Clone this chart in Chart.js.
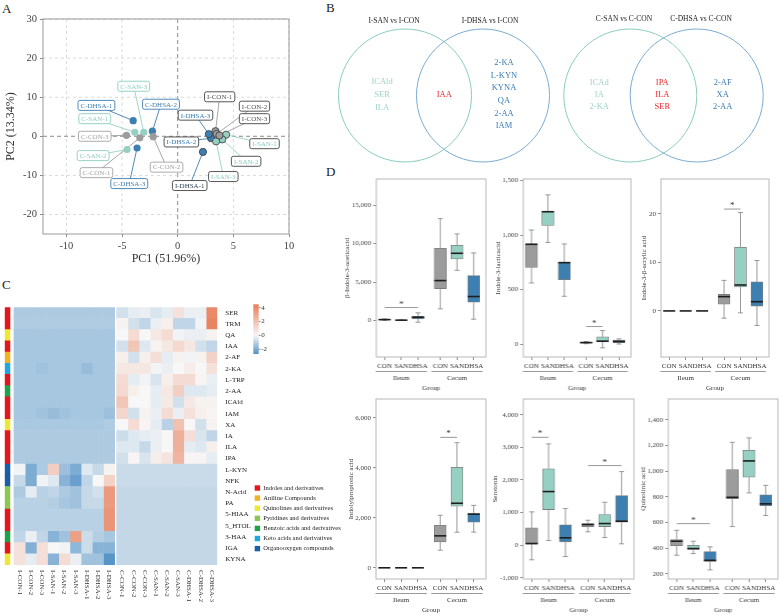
<!DOCTYPE html>
<html>
<head>
<meta charset="utf-8">
<script src="https://cdn.jsdelivr.net/npm/chart.js@4.4.1/dist/chart.umd.min.js"></script>
<style>
  html, body { margin: 0; padding: 0; background: #fff; overflow: hidden; }
  #fig { position: relative; width: 779px; height: 615px; overflow: hidden; font-family: 'Liberation Serif', 'Times New Roman', serif; }
  #fig canvas { position: absolute; }
  .tag { position: absolute; font-size: 13px; color: #222; line-height: 15px; }
</style>
</head>
<body>
<div id="fig">
  <div class="tag" style="left:2px;top:1px">A</div>
  <div class="tag" style="left:326px;top:0px">B</div>
  <div class="tag" style="left:2px;top:277px">C</div>
  <div class="tag" style="left:326px;top:164px">D</div>
</div>
<script>
const SERIF = "'Liberation Serif', 'Times New Roman', serif";

// ---- A: PCA ----
const pcaSamples = ['I-CON-1', 'I-CON-2', 'I-CON-3', 'I-SAN-1', 'I-SAN-2', 'I-SAN-3', 'I-DHSA-1', 'I-DHSA-2', 'I-DHSA-3',
                    'C-CON-1', 'C-CON-2', 'C-CON-3', 'C-SAN-1', 'C-SAN-2', 'C-SAN-3', 'C-DHSA-1', 'C-DHSA-2', 'C-DHSA-3'];
const pc1 = [3.4, 3.5, 3.75, 4.35, 4.0, 3.45, 2.27, 3.0, 2.8, -3.4, -2.2, -4.6, -3.85, -4.55, -3.05, -4.0, -2.27, -3.65];
const pc2 = [1.3, 0.6, 0.2, 0.4, -0.8, -1.3, -4.0, -0.5, 0.55, -0.4, -0.1, 0.25, 1.0, -3.4, 1.0, 4.0, 1.3, -3.0];
const pc1Ticks = [-10, -5, 0, 5, 10];
const pc2Ticks = [-20, -10, 0, 10, 20, 30];
// where the repelled labels sit (data units)
const labelX = [3.77, 6.9, 6.9, 7.8, 6.15, 4.1, 1.08, 0.33, 1.6, -7.3, -1.0, -7.45, -7.45, -7.6, -3.95, -7.3, -1.5, -4.35];
const labelY = [10.1, 7.7, 4.5, -1.9, -6.4, -10.3, -12.6, -1.45, 5.4, -9.3, -7.9, 0, 4.5, -4.95, 12.8, 7.9, 8.2, -12.1];

// ---- B: Venn ----
const vennTitles = ['I-SAN vs I-CON', 'I-DHSA vs I-CON', 'C-SAN vs C-CON', 'C-DHSA vs C-CON'];
const ileumSanOnly = ['ICAld', 'SER', 'ILA'];
const ileumShared = ['IAA'];
const ileumDhsaOnly = ['2-KA', 'L-KYN', 'KYNA', 'QA', '2-AA', 'IAM'];
const cecumSanOnly = ['ICAd', 'IA', '2-KA'];
const cecumShared = ['IPA', 'ILA', 'SER'];
const cecumDhsaOnly = ['2-AF', 'XA', '2-AA'];

// ---- C: heatmap ----
const metabolites = ['SER', 'TRM', 'QA', 'IAA', '2-AF', '2-KA', 'L-TRP', '2-AA', 'ICAld', 'IAM', 'XA', 'IA', 'ILA', 'IPA',
                     'L-KYN', 'NFK', 'N-Acid', 'PA', '5-HIAA', '5_HTOL', '3-HAA', 'IGA', 'KYNA'];
const metClass = [0, 0, 2, 0, 1, 5, 0, 4, 0, 0, 2, 0, 0, 0, 6, 6, 3, 3, 0, 0, 4, 0, 2];
const classNames = ['Indoles and derivatives', 'Aniline Compounds', 'Quinolines and derivatives', 'Pyridines and derivatives',
                    'Benzoic acids and derivatives', 'Keto acids and derivatives', 'Organooxygen compounds'];
const ileumSamples = ['I-CON-1', 'I-CON-2', 'I-CON-3', 'I-SAN-1', 'I-SAN-2', 'I-SAN-3', 'I-DHSA-1', 'I-DHSA-2', 'I-DHSA-3'];
const cecumSamples = ['C-CON-1', 'C-CON-2', 'C-CON-3', 'C-SAN-1', 'C-SAN-2', 'C-SAN-3', 'C-DHSA-1', 'C-DHSA-2', 'C-DHSA-3'];
const zIleum = [
  [-1.2, -1.2, -1.2, -1.2, -1.2, -1.2, -1.2, -1.2, -1.2],
  [-1.15, -1.15, -1.15, -1.15, -1.15, -1.15, -1.15, -1.15, -1.15],
  [-1.3, -1.3, -1.3, -1.3, -1.3, -1.3, -1.3, -1.3, -1.3],
  [-1.3, -1.3, -1.3, -1.3, -1.3, -1.3, -1.3, -1.3, -1.3],
  [-1.3, -1.3, -1.3, -1.3, -1.3, -1.3, -1.3, -1.3, -1.3],
  [-1.3, -1.3, -1.4, -1.3, -1.3, -1.3, -1.55, -1.3, -1.3],
  [-1.3, -1.3, -1.3, -1.3, -1.3, -1.3, -1.3, -1.3, -1.3],
  [-1.3, -1.3, -1.3, -1.3, -1.3, -1.3, -1.3, -1.3, -1.3],
  [-1.3, -1.3, -1.3, -1.3, -1.3, -1.3, -1.3, -1.3, -1.3],
  [-1.3, -1.3, -1.4, -1.55, -1.4, -1.3, -1.3, -1.3, -1.45],
  [-1.25, -1.25, -1.25, -1.25, -1.25, -1.25, -1.25, -1.25, -1.15],
  [-1.2, -1.2, -1.2, -1.2, -1.2, -1.2, -1.2, -1.2, -1.2],
  [-1.2, -1.2, -1.2, -1.2, -1.2, -1.2, -1.2, -1.2, -1.2],
  [-1.2, -1.2, -1.2, -1.2, -1.2, -1.2, -1.2, -1.2, -1.2],
  [-0.1, -2.0, -1.2, 1.5, -1.5, -2.0, -0.4, -0.8, 0.2],
  [-0.8, -2.0, -0.1, -0.4, -1.8, -2.3, -0.9, 0.0, 1.4],
  [-1.2, -0.3, -1.0, -0.9, -1.2, -1.4, -0.8, -0.6, 3.4],
  [-1.0, -1.0, -1.0, -1.1, -1.3, -1.4, -0.8, -0.8, 3.4],
  [-1.0, -1.0, -1.0, -1.0, -1.0, -1.0, -1.0, -1.0, 3.6],
  [-1.0, -1.0, -1.0, -1.0, -1.0, -1.0, -1.0, -1.0, 3.6],
  [-0.9, -0.2, -0.9, -1.8, -1.4, 3.2, -0.7, -1.1, -1.3],
  [0.8, -1.9, 0.9, 0.0, -0.1, -1.7, -0.7, -1.8, -1.8],
  [0.8, -0.3, 0.9, -1.8, 1.0, -0.2, -1.4, -1.4, -2.6]
];
const zCecum = [
  [-0.6, -0.3, -0.2, -0.5, -0.3, 0.8, -0.2, -0.2, 4.0],
  [0.2, -0.6, -0.9, -0.2, 0.3, -0.9, -0.9, -0.1, 4.2],
  [0.0, 1.0, 0.0, 0.6, 1.0, -0.1, -0.2, -0.2, 0.2],
  [-0.6, 1.8, -0.4, 0.2, 0.6, 1.1, 0.6, -0.6, -0.9],
  [0.3, -0.6, 0.3, 0.9, -0.3, 0.2, -0.1, 0.2, 1.4],
  [0.6, 0.6, 0.6, -0.1, -0.2, 0.0, 0.4, 0.0, 0.8],
  [1.0, -0.3, -0.1, -0.5, 0.3, 1.0, 1.0, 0.1, -0.2],
  [1.1, 0.3, 0.0, -0.3, 0.6, 1.5, -0.4, -0.4, -0.3],
  [1.8, 0.0, 0.0, -0.3, 0.5, -0.6, 0.5, 0.2, 0.2],
  [1.2, -0.6, 0.2, -0.2, 1.0, -0.2, 0.8, 0.3, 0.1],
  [0.0, 1.0, 0.1, -0.3, -1.0, 2.0, 0.0, -0.6, 0.2],
  [-0.7, -0.4, -0.3, -0.2, 0.0, 2.6, 0.9, -0.5, -0.9],
  [-0.4, -0.4, -0.8, -0.2, 0.0, 2.6, -0.3, -0.4, 0.3],
  [-0.6, 0.1, -0.5, 0.4, 0.7, 2.4, 0.1, 0.1, -0.3],
  [-0.75, -0.75, -0.75, -0.75, -0.75, -0.75, -0.75, -0.75, -0.75],
  [-0.75, -0.75, -0.75, -0.75, -0.75, -0.75, -0.75, -0.75, -0.75],
  [-0.85, -0.85, -0.85, -0.85, -0.85, -0.85, -0.85, -0.85, -0.85],
  [-0.85, -0.85, -0.85, -0.85, -0.85, -0.85, -0.85, -0.85, -0.85],
  [-0.85, -0.85, -0.85, -0.85, -0.85, -0.85, -0.85, -0.85, -0.85],
  [-0.85, -0.85, -0.85, -0.85, -0.85, -0.85, -0.85, -0.85, -0.85],
  [-0.85, -0.85, -0.85, -0.85, -0.85, -0.85, -0.85, -0.85, -0.85],
  [-0.85, -0.85, -0.85, -0.85, -0.85, -0.85, -0.85, -0.85, -0.85],
  [-0.85, -0.85, -0.85, -0.85, -0.85, -0.85, -0.85, -0.85, -0.85]
];
const legendTicks = [4, 2, 0, -2];

// ---- D: box plots ----
const groupLabels = ['CON', 'SAN', 'DHSA', 'CON', 'SAN', 'DHSA'];
const tissues = ['Ileum', 'Cecum'];
// [lower whisker, Q1, median, Q3, upper whisker]
const boxIAA = [[20, 80, 120, 160, 220], [10, 30, 50, 70, 100], [-220, 220, 430, 560, 1000],
                [1520, 4155, 5195, 9390, 13250], [6530, 8010, 8740, 9780, 11260], [170, 2380, 3120, 5840, 8790]];
const boxILA = [[561, 704, 915, 920, 1046], [932, 1088, 1213, 1219, 1368], [439, 591, 747, 750, 918],
                [5, 10, 15, 18, 25], [-33, 22, 28, 68, 125], [2, 15, 25, 37, 49]];
const boxIAcA = [[0, 0, 0, 0, 0], [0, 0, 0, 0, 0], [0, 0, 0, 0, 0],
                 [-1.5, 1.4, 2.95, 3.4, 6.3], [-0.4, 4.95, 5.35, 13.1, 20.3], [-3.0, 1.0, 1.9, 6.0, 10.4]];
const boxIPA = [[0, 0, 0, 0, 0], [0, 0, 0, 0, 0], [0, 0, 0, 0, 0],
                [705, 1040, 1280, 1705, 2105], [1425, 2465, 2585, 4025, 5010], [1430, 1830, 2150, 2170, 2500]];
const boxSER = [[-447, 31, 52, 532, 1022], [144, 1093, 1644, 2339, 3104], [-346, 104, 227, 624, 1123],
                [410, 563, 634, 664, 765], [236, 572, 664, 940, 1316], [43, 704, 735, 1521, 2256]];
const boxQA = [[345, 420, 454, 467, 539], [358, 391, 397, 423, 454], [231, 296, 305, 373, 410],
               [568, 786, 796, 1011, 1224], [830, 952, 1079, 1162, 1258], [654, 731, 745, 815, 889]];
const sigIAA = [{a: 0, b: 2, y: 1690}];
const sigILA = [{a: 3, b: 4, y: 162}];
const sigIAcA = [{a: 3, b: 4, y: 21}];
const sigIPA = [{a: 3, b: 4, y: 5224}];
const sigSER = [{a: 0, b: 1, y: 3306}, {a: 3, b: 5, y: 2440}];
const sigQA = [{a: 0, b: 2, y: 591}];
const ticksIAA = [0, 5000, 10000, 15000];
const ticksILA = [0, 500, 1000, 1500];
const ticksIAcA = [0, 10, 20];
const ticksIPA = [0, 2000, 4000, 6000];
const ticksSER = [-1000, 0, 1000, 2000, 3000, 4000];
const ticksQA = [200, 400, 600, 800, 1000, 1200, 1400];

// ---- styles ----
const groupColors = ['#9c9c9c', '#96d0c2', '#3d7fb0'];
const classColors = ['#e8141c', '#f5b120', '#eee835', '#8cc751', '#1ea34a', '#20a7e3', '#1a5ea8'];
const xPos = [0.7, 1, 1.3, 1.7, 2, 2.3];

Chart.defaults.font.family = SERIF;
Chart.defaults.color = '#333';
Chart.defaults.animation = false;
Chart.defaults.responsive = false;
Chart.defaults.layout.autoPadding = false;
Chart.defaults.plugins.legend.display = false;
Chart.defaults.plugins.tooltip.enabled = false;

const fig = document.getElementById('fig');
function makeCanvas(left, top, w, h) {
  const c = document.createElement('canvas');
  c.width = w; c.height = h;
  Object.assign(c.style, {left: left + 'px', top: top + 'px', width: w + 'px', height: h + 'px'});
  fig.appendChild(c);
  return c;
}
const groupOf = name => name.includes('DHSA') ? 2 : (name.includes('SAN') ? 1 : 0);

// ================= A =================
function labelStyle(name) {
  const g = groupOf(name), ileum = name.startsWith('I-');
  let text = ['#a3a3a3', '#8ccdbd', '#3b7fb3'][g];
  if (ileum && g === 0) text = '#555';
  if (name === 'I-DHSA-1') text = '#2d3e55';
  return {text, border: ileum ? '#444' : text};
}
const pcaPlugin = {
  id: 'pca',
  beforeDatasetsDraw(chart) {
    const {ctx, chartArea: a, scales: {x, y}} = chart;
    ctx.save();
    ctx.lineWidth = 0.8;
    pc1Ticks.forEach(v => {
      const px = x.getPixelForValue(v);
      ctx.strokeStyle = v === 0 ? '#6e6e6e' : '#d2d2d2';
      ctx.setLineDash(v === 0 ? [4, 3] : [3, 3]);
      ctx.beginPath(); ctx.moveTo(px, a.top); ctx.lineTo(px, a.bottom); ctx.stroke();
    });
    pc2Ticks.forEach(v => {
      const py = y.getPixelForValue(v);
      ctx.strokeStyle = v === 0 ? '#6e6e6e' : '#d2d2d2';
      ctx.setLineDash(v === 0 ? [4, 3] : [3, 3]);
      ctx.beginPath(); ctx.moveTo(a.left, py); ctx.lineTo(a.right, py); ctx.stroke();
    });
    ctx.setLineDash([]);
    ctx.strokeStyle = '#9a9a9a'; ctx.lineWidth = 1;
    ctx.strokeRect(a.left, a.top, a.width, a.height);
    // repel segments
    ctx.lineWidth = 0.9;
    pcaSamples.forEach((n, i) => {
      ctx.strokeStyle = groupColors[groupOf(n)];
      ctx.beginPath();
      ctx.moveTo(x.getPixelForValue(pc1[i]), y.getPixelForValue(pc2[i]));
      ctx.lineTo(x.getPixelForValue(labelX[i]), y.getPixelForValue(labelY[i]));
      ctx.stroke();
    });
    ctx.restore();
  },
  afterDatasetsDraw(chart) {
    const {ctx, scales: {x, y}} = chart;
    ctx.save();
    ctx.font = '7px ' + SERIF;
    ctx.textAlign = 'center'; ctx.textBaseline = 'middle';
    pcaSamples.forEach((n, i) => {
      const st = labelStyle(n);
      const cx = x.getPixelForValue(labelX[i]), cy = y.getPixelForValue(labelY[i]);
      const w = ctx.measureText(n).width + 5, h = 10;
      ctx.beginPath();
      if (ctx.roundRect) ctx.roundRect(cx - w / 2, cy - h / 2, w, h, 2); else ctx.rect(cx - w / 2, cy - h / 2, w, h);
      ctx.fillStyle = '#fff'; ctx.fill();
      ctx.strokeStyle = st.border; ctx.lineWidth = 0.9; ctx.stroke();
      ctx.fillStyle = st.text;
      ctx.fillText(n, cx, cy + 0.5);
    });
    ctx.restore();
  }
};
new Chart(makeCanvas(0, 0, 300, 270), {
  type: 'scatter',
  data: {
    datasets: [0, 1, 2].map(g => {
      const idx = pcaSamples.map((n, i) => i).filter(i => groupOf(pcaSamples[i]) === g);
      return {
        data: idx.map(i => ({x: pc1[i], y: pc2[i]})),
        pointRadius: 3.6,
        pointBackgroundColor: groupColors[g],
        pointBorderColor: idx.map(i => pcaSamples[i].startsWith('I-') ? '#3a3a3a' : groupColors[g]),
        pointBorderWidth: idx.map(i => pcaSamples[i].startsWith('I-') ? 0.8 : 0)
      };
    })
  },
  options: {
    layout: {padding: {left: 0, top: 19, right: 11, bottom: 0}},
    scales: {
      x: {
        type: 'linear', min: -12.1, max: 10,
        afterBuildTicks: s => { s.ticks = pc1Ticks.map(v => ({value: v})); },
        grid: {drawOnChartArea: false, tickLength: 3, color: '#8a8a8a'}, border: {display: false},
        ticks: {font: {size: 10.5}, color: '#444', padding: 3},
        title: {display: true, text: 'PC1 (51.96%)', font: {size: 12}, color: '#333'},
        afterFit: s => { s.height = 36; }
      },
      y: {
        min: -25, max: 30,
        afterBuildTicks: s => { s.ticks = pc2Ticks.map(v => ({value: v})); },
        grid: {drawOnChartArea: false, tickLength: 3, color: '#8a8a8a'}, border: {display: false},
        ticks: {font: {size: 10.5}, color: '#444', padding: 3},
        title: {display: true, text: 'PC2 (13.34%)', font: {size: 12}, color: '#333'},
        afterFit: s => { s.width = 43; }
      }
    }
  },
  plugins: [pcaPlugin]
});

// ================= B =================
const vennPlugin = {
  id: 'vennText',
  afterDatasetsDraw(chart) {
    const {ctx, scales: {x, y}} = chart;
    const put = (t, px, py, col, size) => {
      ctx.fillStyle = col; ctx.font = size + 'px ' + SERIF;
      ctx.fillText(t, x.getPixelForValue(px), y.getPixelForValue(py));
    };
    ctx.save();
    ctx.textAlign = 'center'; ctx.textBaseline = 'middle';
    [394, 490, 624, 701].forEach((cx, k) => put(vennTitles[k], cx, k < 2 ? 21 : 19.5, '#222', 7.5));
    const column = (list, cx, col, step) =>
      list.forEach((t, k) => put(t, cx, 94.5 + (k - (list.length - 1) / 2) * step, col, 8.5));
    column(ileumSanOnly, 382, '#9dd3c6', 12.8);
    column(ileumShared, 444.3, '#ef2b2e', 12.6);
    column(ileumDhsaOnly, 504, '#3a7db5', 12.6);
    column(cecumSanOnly, 599.3, '#9dd3c6', 12);
    column(cecumShared, 662.3, '#ef2b2e', 12);
    column(cecumDhsaOnly, 722.7, '#3a7db5', 12);
    ctx.restore();
  }
};
const circle = (cx, col) => ({
  data: [{x: cx, y: 95.5}], pointRadius: 66.5, pointBackgroundColor: 'rgba(0,0,0,0)',
  pointBorderColor: col, pointBorderWidth: 1, clip: false
});
new Chart(makeCanvas(300, 0, 479, 170), {
  type: 'scatter',
  data: {datasets: [circle(405, '#8bcdbd'), circle(483, '#7aabd2'), circle(630.3, '#8bcdbd'), circle(696.7, '#7aabd2')]},
  options: {
    layout: {padding: 0, autoPadding: false},
    scales: {x: {display: false, min: 300, max: 779}, y: {display: false, min: 0, max: 170, reverse: true}}
  },
  plugins: [vennPlugin]
});

// ================= C =================
function heatColor(v) {
  const lo = [62, 134, 192], mid = [247, 247, 247], hi = [232, 124, 88];
  let t, e;
  if (v < 0) { t = Math.min(1, -v / 3); e = lo; } else { t = Math.min(1, v / 4.5); e = hi; }
  const c = mid.map((m, k) => Math.round(m + (e[k] - m) * t));
  return `rgb(${c[0]},${c[1]},${c[2]})`;
}
const C_TOP = 295;
const colCenter = j => j < 9 ? 0.83 + j + 0.5 : 10.01 + (j - 9) + 0.5;
const heatDatasets = [
  {data: metabolites.map(() => 0.47), backgroundColor: metClass.map(k => classColors[k])},
  {data: metabolites.map(() => 0.36), backgroundColor: 'rgba(0,0,0,0)'}
];
ileumSamples.forEach((s, j) => heatDatasets.push({data: metabolites.map(() => 1), backgroundColor: zIleum.map(r => heatColor(r[j]))}));
heatDatasets.push({data: metabolites.map(() => 0.18), backgroundColor: 'rgba(0,0,0,0)'});
cecumSamples.forEach((s, j) => heatDatasets.push({data: metabolites.map(() => 1), backgroundColor: zCecum.map(r => heatColor(r[j]))}));

const heatPlugin = {
  id: 'heatExtras',
  afterDraw(chart) {
    const {ctx, chartArea: a, scales: {x}} = chart;
    ctx.save();
    ctx.font = '7px ' + SERIF; ctx.fillStyle = '#333';
    ctx.textAlign = 'left'; ctx.textBaseline = 'middle';
    ileumSamples.concat(cecumSamples).forEach((s, j) => {
      ctx.save();
      ctx.translate(x.getPixelForValue(colCenter(j)), a.bottom + 5);
      ctx.rotate(Math.PI / 2);
      ctx.fillText(s, 0, 0);
      ctx.restore();
    });
    // colour key
    const vTop = 4.49, vBot = -2.68, yTop = 304.3 - C_TOP, yBot = 354 - C_TOP, kx = 253.3, kw = 5.4;
    const grad = ctx.createLinearGradient(0, yTop, 0, yBot);
    for (let k = 0; k <= 20; k++) {
      const v = vTop + (vBot - vTop) * k / 20;
      grad.addColorStop(k / 20, heatColor(v));
    }
    ctx.fillStyle = grad;
    ctx.fillRect(kx, yTop, kw, yBot - yTop);
    ctx.font = '7px ' + SERIF;
    legendTicks.forEach(v => {
      const py = yTop + (vTop - v) / (vTop - vBot) * (yBot - yTop);
      ctx.strokeStyle = '#555'; ctx.lineWidth = 0.7;
      ctx.beginPath(); ctx.moveTo(kx + kw, py); ctx.lineTo(kx + kw + 1.8, py); ctx.stroke();
      ctx.fillStyle = '#333';
      ctx.fillText(v < 0 ? '-' + Math.abs(v) : String(v), kx + kw + 2.5, py);
    });
    // class legend
    ctx.font = '6.5px ' + SERIF;
    classNames.forEach((n, k) => {
      const cy = 488 - C_TOP + k * 10.1;
      ctx.fillStyle = classColors[k];
      ctx.fillRect(254.7, cy - 2.7, 5.4, 5.4);
      ctx.fillStyle = '#222';
      ctx.fillText(n, 263.3, cy);
    });
    ctx.restore();
  }
};
new Chart(makeCanvas(0, C_TOP, 360, 320), {
  type: 'bar',
  data: {labels: metabolites, datasets: heatDatasets},
  options: {
    indexAxis: 'y',
    datasets: {bar: {barPercentage: 1, categoryPercentage: 1, borderWidth: 0}},
    layout: {padding: {left: 4.7, top: 6.7, right: 0, bottom: 50}},
    scales: {
      x: {stacked: true, display: false, min: 0, max: 19.01},
      y: {
        stacked: true, position: 'right',
        grid: {display: false, drawTicks: false}, border: {display: false},
        ticks: {font: {size: 7}, color: '#222', padding: 8},
        afterFit: s => { s.width = 360 - 217.3; }
      }
    }
  },
  plugins: [heatPlugin]
});

// ================= D =================
const dPanels = [
  {title: 'β-Indole-3-aceticacid', box: boxIAA, sig: sigIAA, ticks: ticksIAA, min: -4740, max: 18400, frame: [376, 179.3, 485.7, 357.5]},
  {title: 'Indole-3-lacticacid', box: boxILA, sig: sigILA, ticks: ticksILA, min: -117, max: 1513, frame: [523.3, 179.3, 631, 357.5]},
  {title: 'Indole-3-β-acrylic acid', box: boxIAcA, sig: sigIAcA, ticks: ticksIAcA, min: -9.5, max: 27.2, frame: [660.7, 179.3, 769.3, 357.5]},
  {title: 'Indolylpropionic acid', box: boxIPA, sig: sigIPA, ticks: ticksIPA, min: -448, max: 6760, frame: [376, 399.3, 486, 579.5]},
  {title: 'Serotonin', box: boxSER, sig: sigSER, ticks: ticksSER, min: -1035, max: 4480, frame: [523.3, 399.3, 634, 579.5]},
  {title: 'Quinolinic acid', box: boxQA, sig: sigQA, ticks: ticksQA, min: 160, max: 1561, frame: [668.3, 399.3, 778, 579.5]}
];
const fmt = v => v.toLocaleString('en-US');

function drawBoxPanel(p) {
  const [fl, ft, fr, fb] = p.frame;
  const padL = 44, padT = 8, padR = 12, padB = 40;
  const cv = makeCanvas(fl - padL, ft - padT, fr - fl + padL + padR, fb - ft + padT + padB);
  const overlay = {
    id: 'boxOverlay',
    beforeDatasetsDraw(chart) {
      const {ctx, chartArea: a, scales: {x, y}} = chart;
      ctx.save();
      ctx.strokeStyle = '#b8b8b8'; ctx.lineWidth = 1;
      ctx.strokeRect(a.left, a.top, a.width, a.height);
      ctx.strokeStyle = '#8c8c8c'; ctx.lineWidth = 0.9;
      p.box.forEach((b, i) => {
        if (b[4] === b[0]) return;
        const xp = x.getPixelForValue(xPos[i]);
        ctx.beginPath();
        ctx.moveTo(xp, y.getPixelForValue(b[0])); ctx.lineTo(xp, y.getPixelForValue(b[1]));
        ctx.moveTo(xp, y.getPixelForValue(b[3])); ctx.lineTo(xp, y.getPixelForValue(b[4]));
        [b[0], b[4]].forEach(v => {
          const yp = y.getPixelForValue(v);
          ctx.moveTo(xp - 2.5, yp); ctx.lineTo(xp + 2.5, yp);
        });
        ctx.stroke();
      });
      ctx.restore();
    },
    afterDatasetsDraw(chart) {
      const {ctx, chartArea: a, scales: {x, y}} = chart;
      ctx.save();
      // medians
      ctx.strokeStyle = '#1e1e1e'; ctx.lineWidth = 1.6;
      p.box.forEach((b, i) => {
        const xp = x.getPixelForValue(xPos[i]), yp = y.getPixelForValue(b[2]);
        ctx.beginPath(); ctx.moveTo(xp - 6, yp); ctx.lineTo(xp + 6, yp); ctx.stroke();
      });
      // significance marks
      ctx.strokeStyle = '#8c8c8c'; ctx.lineWidth = 0.9;
      ctx.fillStyle = '#333'; ctx.font = '9px ' + SERIF; ctx.textAlign = 'center'; ctx.textBaseline = 'alphabetic';
      p.sig.forEach(s => {
        const x1 = x.getPixelForValue(xPos[s.a]), x2 = x.getPixelForValue(xPos[s.b]), yp = y.getPixelForValue(s.y);
        ctx.beginPath(); ctx.moveTo(x1, yp); ctx.lineTo(x2, yp); ctx.stroke();
        ctx.fillText('*', (x1 + x2) / 2, yp - 1);
      });
      // tissue brackets
      ctx.font = '7px ' + SERIF; ctx.textBaseline = 'middle';
      ctx.strokeStyle = '#9a9a9a'; ctx.lineWidth = 1;
      tissues.forEach((t, k) => {
        const c = k + 1;
        ctx.beginPath();
        ctx.moveTo(x.getPixelForValue(c - 0.46), a.bottom + 14.5);
        ctx.lineTo(x.getPixelForValue(c + 0.46), a.bottom + 14.5);
        ctx.stroke();
        ctx.fillText(t, x.getPixelForValue(c), a.bottom + 21.5);
      });
      ctx.fillText('Group', (a.left + a.right) / 2, a.bottom + 31.5);
      // y title
      const maxW = Math.max(...p.ticks.map(v => ctx.measureText(fmt(v)).width));
      ctx.translate(a.left - 5 - maxW - 4.5, (a.top + a.bottom) / 2);
      ctx.rotate(-Math.PI / 2);
      ctx.fillText(p.title, 0, 0);
      ctx.restore();
    }
  };
  new Chart(cv, {
    type: 'bar',
    data: {
      datasets: [{
        data: xPos.map((v, i) => ({x: v, y: [p.box[i][1], p.box[i][3]]})),
        backgroundColor: [0, 1, 2, 0, 1, 2].map(g => groupColors[g]),
        borderColor: '#7d7d7d', borderWidth: 0.8, borderSkipped: false, barThickness: 12
      }]
    },
    options: {
      layout: {padding: {left: 0, top: padT, right: padR, bottom: 0}},
      scales: {
        x: {
          type: 'linear', min: 0.55, max: 2.52, offset: false,
          grid: {offset: false, drawOnChartArea: false, tickLength: 3, color: '#8c8c8c'}, border: {display: false},
          afterBuildTicks: s => { s.ticks = xPos.map(v => ({value: v})); },
          ticks: {autoSkip: false, maxRotation: 0, font: {size: 7}, color: '#333', padding: 1.5, callback: (v, i) => groupLabels[i]},
          afterFit: s => { s.height = padB; }
        },
        y: {
          min: p.min, max: p.max,
          grid: {drawOnChartArea: false, tickLength: 3, color: '#8c8c8c'}, border: {display: false},
          afterBuildTicks: s => { s.ticks = p.ticks.map(v => ({value: v})); },
          ticks: {font: {size: 7}, color: '#444', padding: 2, callback: v => fmt(v)},
          afterFit: s => { s.width = padL; }
        }
      }
    },
    plugins: [overlay]
  });
}
dPanels.forEach(drawBoxPanel);
</script>
</body>
</html>
